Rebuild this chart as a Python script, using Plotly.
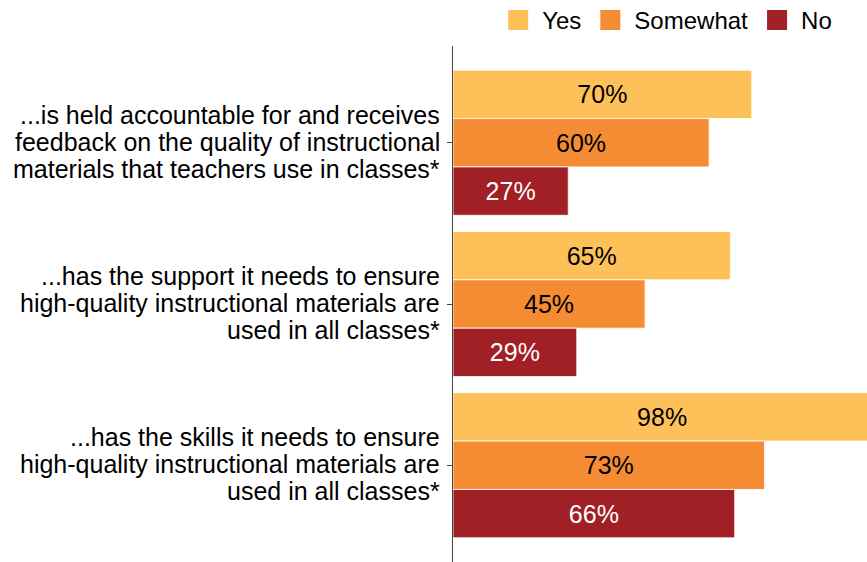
import plotly.graph_objects as go

FONT = "Liberation Sans, Arial, sans-serif"

# Statements (one group of bars each), one list entry per printed line
statement_lines = [
    ["...is held accountable for and receives",
     "feedback on the quality of instructional",
     "materials that teachers use in classes*"],
    ["...has the support it needs to ensure",
     "high-quality instructional materials are",
     "used in all classes*"],
    ["...has the skills it needs to ensure",
     "high-quality instructional materials are",
     "used in all classes*"],
]
statements = [" ".join(lines) for lines in statement_lines]

series_names = ["Yes", "Somewhat", "No"]
yes_vals = [70, 65, 98]
somewhat_vals = [60, 45, 73]
no_vals = [27, 29, 66]

colors = ["#FEC15A", "#F58C34", "#A02026"]
text_colors = ["#000000", "#000000", "#FFFFFF"]

fig = go.Figure()

for name, vals, col, tcol in zip(series_names, [yes_vals, somewhat_vals, no_vals], colors, text_colors):
    fig.add_trace(go.Bar(
        y=statements,
        x=vals,
        orientation="h",
        name=name,
        marker=dict(color=col, line=dict(color="rgba(255,255,255,0.8)", width=1)),
        text=[f"{v}%" for v in vals],
        textposition="inside",
        insidetextanchor="middle",
        textfont=dict(color=tcol, size=25, family=FONT),
        showlegend=False,
    ))

# Legend entries with larger square swatches
for name, col in zip(series_names, colors):
    fig.add_trace(go.Scatter(
        x=[None], y=[None], mode="markers", name=name,
        marker=dict(symbol="square", size=16, color=col, line=dict(color=col, width=4)),
        showlegend=True,
    ))

# Category labels, drawn line by line for tighter line spacing
line_shift = 27
for cat, lines in zip(statements, statement_lines):
    for i, line in enumerate(lines):
        fig.add_annotation(
            x=0, xref="paper", xanchor="right", xshift=-11,
            y=cat, yref="y", yanchor="middle",
            yshift=(1 - i) * line_shift + 1,
            text=line, showarrow=False,
            font=dict(size=25, family=FONT, color="#000000"),
        )

fig.update_layout(
    width=867,
    height=562,
    barmode="group",
    bargap=0.1,
    bargroupgap=0,
    plot_bgcolor="white",
    paper_bgcolor="white",
    margin=dict(l=453, r=0, t=46, b=0, autoexpand=False),
    font=dict(family=FONT, size=24, color="#000000"),
    legend=dict(
        orientation="h",
        x=0.928, xanchor="right",
        y=1.006, yanchor="bottom",
        font=dict(size=24),
        itemwidth=38,
    ),
    uniformtext=dict(mode="show", minsize=20),
)

fig.update_xaxes(range=[0, 97], visible=False, showgrid=False, zeroline=False)
fig.update_yaxes(
    type="category",
    range=[2.6, -0.6],
    showline=True, linecolor="#444444", linewidth=1,
    ticks="outside", ticklen=5, tickcolor="#444444",
    showgrid=False,
    showticklabels=False,
)

fig.write_html("out.html")
